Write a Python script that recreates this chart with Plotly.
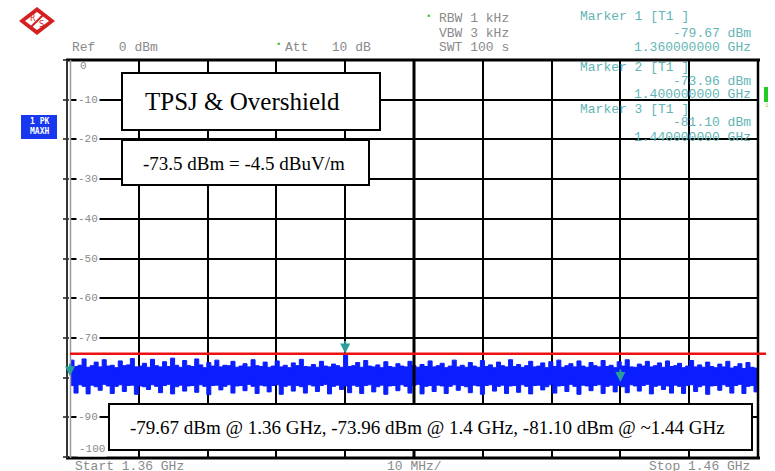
import numpy as np
import plotly.graph_objects as go

# ---------------- data ----------------
freq_start_ghz = 1.36
freq_stop_ghz = 1.46
n_points = 172

# max-hold envelope of the noise trace (dBm)
trace_upper = [
    -75.6, -77.2, -76.9, -75.3, -77.4, -77.0, -76.1, -77.3, -75.5, -77.1,
    -76.9, -77.5, -75.8, -77.0, -76.8, -75.2, -77.3, -77.1, -76.4, -77.4,
    -75.4, -77.0, -77.3, -76.0, -77.2, -75.1, -76.9, -77.4, -75.7, -77.0,
    -77.2, -75.3, -76.8, -77.5, -76.2, -77.1, -75.6, -77.3, -76.9, -77.0,
    -75.9, -77.4, -77.1, -76.5, -77.3, -75.5, -77.0, -77.2, -76.1, -77.4,
    -77.1, -75.8, -77.3, -76.9, -77.5, -76.3, -77.0, -75.4, -77.2, -77.3,
    -76.7, -77.4, -75.9, -77.1, -77.3, -76.6, -77.0, -77.4, -74.0, -77.2,
    -77.0, -76.2, -77.4, -75.7, -77.1, -77.3, -76.8, -77.5, -76.0, -77.2,
    -77.4, -76.5, -77.1, -77.3, -75.9, -77.0, -77.4, -76.7, -77.2, -75.8,
    -77.3, -77.0, -76.4, -77.5, -77.1, -75.6, -77.3, -76.9, -77.4, -76.2,
    -77.1, -77.4, -75.7, -77.2, -76.8, -77.5, -76.1, -77.0, -77.3, -75.5,
    -77.2, -76.7, -77.4, -77.0, -75.9, -77.3, -77.1, -76.3, -77.5, -76.0,
    -77.2, -75.6, -77.4, -77.0, -76.5, -77.3, -75.8, -77.1, -77.4, -76.2,
    -77.0, -77.3, -75.7, -77.2, -76.9, -77.5, -76.0, -77.1, -75.5, -77.3,
    -77.4, -76.6, -77.1, -75.9, -77.3, -77.0, -76.3, -77.4, -75.8, -77.2,
    -77.0, -76.4, -77.5, -77.1, -75.7, -77.3, -76.8, -77.4, -76.1, -77.2,
    -77.5, -76.6, -77.3, -75.9, -77.6, -77.2, -76.5, -77.7, -76.2, -77.4,
    -77.6, -76.8,
]
trace_lower = [
    -82.0, -83.9, -81.8, -82.2, -84.1, -81.9, -82.3, -83.2, -81.7, -82.1,
    -84.0, -82.2, -81.8, -83.5, -82.0, -81.9, -84.2, -82.1, -82.3, -83.0,
    -81.8, -82.2, -83.8, -82.0, -81.7, -84.1, -82.3, -81.9, -83.4, -82.1,
    -82.0, -83.7, -81.8, -82.2, -84.3, -82.0, -81.9, -83.1, -82.2, -81.8,
    -83.9, -82.1, -82.0, -83.3, -81.7, -82.2, -84.0, -81.9, -82.1, -83.6,
    -82.0, -81.8, -84.2, -82.2, -81.9, -83.4, -82.0, -82.3, -83.9, -81.8,
    -82.1, -83.5, -82.0, -81.7, -84.1, -82.2, -81.9, -83.0, -82.1, -83.8,
    -81.9, -82.2, -84.0, -82.0, -81.8, -83.6, -82.3, -81.9, -84.2, -82.1,
    -82.0, -83.3, -81.8, -82.2, -83.9, -82.0, -81.7, -84.1, -82.2, -82.0,
    -83.5, -81.9, -82.1, -84.0, -82.2, -81.8, -83.2, -82.0, -82.3, -83.8,
    -81.9, -82.1, -84.2, -82.0, -81.8, -83.4, -82.2, -81.9, -84.0, -82.1,
    -82.0, -83.7, -81.8, -82.2, -84.1, -82.0, -81.9, -83.1, -82.3, -81.8,
    -83.9, -82.1, -82.0, -83.5, -81.7, -82.2, -84.2, -81.9, -82.1, -83.3,
    -82.0, -81.8, -84.0, -82.2, -81.9, -83.6, -82.0, -82.3, -83.8, -81.8,
    -82.1, -83.4, -82.0, -81.7, -84.1, -82.2, -81.9, -83.0, -82.1, -83.9,
    -81.9, -82.2, -84.0, -82.0, -81.8, -83.5, -82.3, -81.9, -84.2, -82.1,
    -82.0, -83.2, -81.8, -82.2, -83.9, -82.0, -81.7, -84.0, -82.2, -82.0,
    -83.6, -82.1,
]

marker_freqs_ghz = [1.36, 1.40, 1.44]
marker_levels_dbm = [-79.67, -73.96, -81.10]
marker_ids = ["1", "2", "3"]
marker_freq_texts = ["1.360000000 GHz", "1.400000000 GHz", "1.440000000 GHz"]

limit_line_dbm = -74.0

y_tick_values = [0, -10, -20, -30, -40, -50, -60, -70, -80, -90, -100]
y_tick_labels = ["0", "-10", "-20", "-30", "-40", "-50", "-60", "-70", "", "-90", "-100"]
x_grid_step_ghz = 0.01

title_text = "TPSJ & Overshield"
limit_text = "-73.5 dBm = -4.5 dBuV/m"
summary_text = "-79.67 dBm @ 1.36 GHz, -73.96 dBm @ 1.4 GHz, -81.10 dBm @ ~1.44 GHz"

# ---------------- layout helpers (pixel -> paper) ----------------
W, H = 775, 471
L, R, T, B = 70, 17, 60, 14
PW, PH = W - L - R, H - T - B


def fx(px):
    return (px - L) / PW


def fy(py):
    return (H - B - py) / PH


MONO = "Liberation Mono"
SERIF = "Liberation Serif"
GREY = "#8a8a8a"
TEAL_TXT = "#63b5b5"
TEAL = "#2a9e98"
BLUE = "#0a1eff"

freqs = np.linspace(freq_start_ghz, freq_stop_ghz, n_points)

fig = go.Figure()
fig.add_trace(go.Scatter(x=freqs, y=trace_lower, mode="lines",
                         line=dict(color=BLUE, width=1, shape="hv"), hoverinfo="skip"))
fig.add_trace(go.Scatter(x=freqs, y=trace_upper, mode="lines", fill="tonexty",
                         fillcolor=BLUE, line=dict(color=BLUE, width=1, shape="hv"), hoverinfo="skip"))

shapes = []
# thick centre vertical grid line
mid = (freq_start_ghz + freq_stop_ghz) / 2
shapes.append(dict(type="line", xref="x", yref="paper", x0=mid, x1=mid, y0=0, y1=1,
                   line=dict(color="black", width=3)))
# borders
shapes.append(dict(type="line", xref="paper", yref="paper", x0=fx(66), x1=fx(760), y0=1, y1=1,
                   line=dict(color="black", width=3)))
shapes.append(dict(type="line", xref="paper", yref="paper", x0=fx(66), x1=fx(760), y0=fy(458), y1=fy(458),
                   line=dict(color="black", width=3)))
shapes.append(dict(type="line", xref="paper", yref="paper", x0=1, x1=1, y0=fy(458), y1=1,
                   line=dict(color="black", width=2.5)))
shapes.append(dict(type="line", xref="paper", yref="paper", x0=fx(67), x1=fx(67), y0=fy(458), y1=1,
                   line=dict(color="#333333", width=2)))
shapes.append(dict(type="line", xref="paper", yref="paper", x0=fx(70.5), x1=fx(70.5), y0=fy(458), y1=1,
                   line=dict(color="#9a9a9a", width=1.5)))
# limit line
shapes.append(dict(type="line", xref="paper", yref="y", x0=0, x1=fx(766),
                   y0=limit_line_dbm, y1=limit_line_dbm, line=dict(color="#ee1111", width=2.5)))
# green indicator at right
shapes.append(dict(type="rect", xref="paper", yref="paper", x0=fx(764), x1=fx(768), y0=fy(102), y1=fy(87),
                   fillcolor="#22cc22", line=dict(width=0)))
# blue "1 PK MAXH" badge
shapes.append(dict(type="rect", xref="paper", yref="paper", x0=fx(21), x1=fx(57), y0=fy(139), y1=fy(115),
                   fillcolor="#1838f0", line=dict(width=0)))
# R&S logo
cx, cy, hw, hh = 37, 21, 18, 14
shapes.append(dict(type="path", xref="paper", yref="paper",
                   path=f"M {fx(cx-hw)},{fy(cy)} L {fx(cx)},{fy(cy-hh)} L {fx(cx+hw)},{fy(cy)} L {fx(cx)},{fy(cy+hh)} Z",
                   fillcolor="#d42020", line=dict(width=0)))
shapes.append(dict(type="path", xref="paper", yref="paper",
                   path=f"M {fx(cx-hw+6)},{fy(cy)} L {fx(cx)},{fy(cy-hh+5)} L {fx(cx+hw-6)},{fy(cy)} L {fx(cx)},{fy(cy+hh-5)} Z",
                   fillcolor="white", line=dict(width=0)))
shapes.append(dict(type="line", xref="paper", yref="paper", x0=fx(cx-6), y0=fy(cy+6), x1=fx(cx+6), y1=fy(cy-6),
                   line=dict(color="#d42020", width=2)))

annotations = []


def txt(text, px, py, size=13, color=GREY, xanchor="left", family=MONO, yanchor="middle", **kw):
    annotations.append(dict(text=text, x=fx(px), y=fy(py), xref="paper", yref="paper",
                            xanchor=xanchor, yanchor=yanchor, showarrow=False,
                            font=dict(family=family, size=size, color=color), **kw))


# R&S letters
txt("R", cx - 4, cy - 3, size=8, color="#d42020", xanchor="center", family="DejaVu Sans")
txt("S", cx + 4, cy + 4, size=8, color="#d42020", xanchor="center", family="DejaVu Sans")

# header texts
txt("Ref   0 dBm", 70, 47)
txt("•", 278, 45, size=9, color="#33cc33", xanchor="center")
txt("Att   10 dB", 283, 47)
txt("•", 428, 17, size=9, color="#33cc33", xanchor="center")
txt("RBW 1 kHz", 437, 18)
txt("VBW 3 kHz", 437, 33)
txt("SWT 100 s", 437, 47)

# marker readouts
marker_rows = [(17, 33, 47), (67, 81, 94), (110, 123, 137)]
for mid_, lvl, ftxt, (r1, r2, r3) in zip(marker_ids, marker_levels_dbm, marker_freq_texts, marker_rows):
    txt(f"Marker {mid_} [T1 ]", 578, r1, color=TEAL_TXT)
    txt(f"{lvl:.2f} dBm", 753, r2, color=TEAL_TXT, xanchor="right")
    txt(ftxt, 753, r3, color=TEAL_TXT, xanchor="right")

# badge text
txt("<b>1 PK</b><br><b>MAXH</b>", 39, 127, size=8, color="white", xanchor="center", family="DejaVu Sans Mono")
txt("1", 767, 106, size=6, color="#aacc44", xanchor="center")

# bottom texts
txt("Start 1.36 GHz", 73, 466)
txt("10 MHz/", 385, 466)
txt("Stop 1.46 GHz", 752, 466, xanchor="right")

# y tick labels inside the plot
for v, lab in zip(y_tick_values, y_tick_labels):
    if not lab:
        continue
    if v == 0:
        annotations.append(dict(text=lab, x=fx(78), y=fy(66), xref="paper", yref="paper",
                                xanchor="left", yanchor="middle", showarrow=False,
                                font=dict(family=MONO, size=11, color=GREY)))
    elif v == -100:
        annotations.append(dict(text=lab, x=fx(77), y=fy(449), xref="paper", yref="paper",
                                xanchor="left", yanchor="middle", showarrow=False, bgcolor="white",
                                font=dict(family=MONO, size=11, color=GREY)))
    else:
        annotations.append(dict(text=lab, x=fx(76), y=v, xref="paper", yref="y",
                                xanchor="left", yanchor="middle", showarrow=False, bgcolor="white",
                                borderpad=1, font=dict(family=MONO, size=11, color=GREY)))

# marker arrows
for f, lvl in zip(marker_freqs_ghz, marker_levels_dbm):
    annotations.append(dict(x=f, y=lvl, xref="x", yref="y", text="", showarrow=True,
                            arrowhead=2, arrowsize=1, arrowwidth=2, arrowcolor=TEAL,
                            ax=0, ay=-14))


def box(x0, y0, x1, y1):
    bw = 2
    annotations.append(dict(text=" ", x=fx((x0 + x1) / 2), y=fy((y0 + y1) / 2), xref="paper", yref="paper",
                            xanchor="center", yanchor="middle", showarrow=False,
                            width=x1 - x0 - 2 * bw, height=y1 - y0 - 2 * bw, borderpad=0,
                            bgcolor="white", bordercolor="black", borderwidth=bw))


box(121, 72, 381, 131)
box(121, 139, 370, 186)
box(108, 403, 753, 451)

txt(title_text, 242, 101, size=25, color="black", xanchor="center", family=SERIF)
txt(limit_text, 243.5, 163, size=19, color="black", xanchor="center", family=SERIF)
txt(summary_text, 427, 427, size=19, color="black", xanchor="center", family=SERIF)

# red spell-check underlines
underlines = [(229, 341, 113), (188, 225, 173), (278, 326, 173), (185, 224, 436), (385, 422, 436), (574, 612, 436)]
for a, b_, yy in underlines:
    shapes.append(dict(type="line", xref="paper", yref="paper", x0=fx(a), x1=fx(b_), y0=fy(yy), y1=fy(yy),
                       line=dict(color="#e02020", width=1.2, dash="dot")))

fig.update_layout(
    width=W, height=H,
    margin=dict(l=L, r=R, t=T, b=B),
    paper_bgcolor="white", plot_bgcolor="white",
    showlegend=False,
    xaxis=dict(range=[freq_start_ghz, freq_stop_ghz], tick0=freq_start_ghz, dtick=x_grid_step_ghz,
               showgrid=True, gridcolor="black", gridwidth=1.5, showticklabels=False,
               zeroline=False, showline=False, ticks="", fixedrange=True),
    yaxis=dict(range=[-100, 0], tick0=0, dtick=10, tickvals=y_tick_values,
               showgrid=True, gridcolor="black", gridwidth=1.5, showticklabels=False,
               zeroline=False, showline=False, ticks="outside", ticklen=6, tickcolor="#555555",
               tickwidth=1.5, fixedrange=True),
    shapes=shapes,
    annotations=annotations,
)

fig.write_html("out.html", config={"displayModeBar": False},
               post_script="document.body.style.margin='0px';document.body.style.overflow='hidden';")
